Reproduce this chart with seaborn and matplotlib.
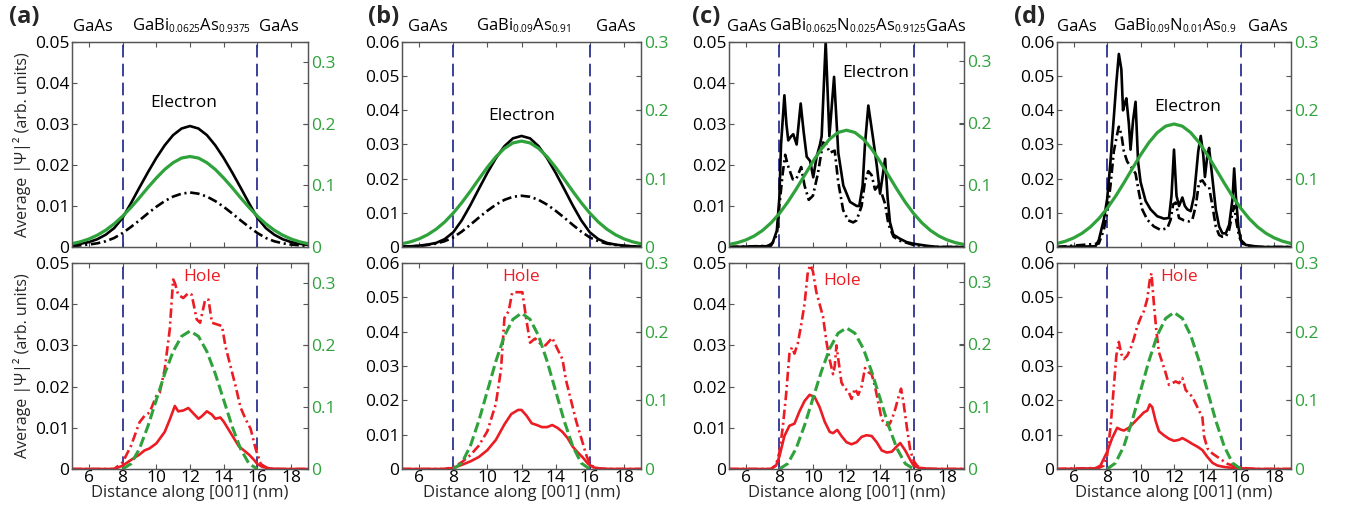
import matplotlib
matplotlib.use("Agg")
import matplotlib.pyplot as plt
import seaborn as sns

sns.set_theme(style="ticks")
plt.rcParams['font.family'] = ['Open Sans', 'DejaVu Sans']
plt.rcParams['mathtext.fontset'] = 'custom'
plt.rcParams['mathtext.rm'] = 'Open Sans'
plt.rcParams['mathtext.it'] = 'Open Sans:italic'
plt.rcParams['mathtext.bf'] = 'Open Sans:bold'
# smaller subscripts in the layer names, like the original figure
try:
    import matplotlib._mathtext as _mt
    _mt.SHRINK_FACTOR = 0.6
except Exception:
    pass

GREEN = '#2fa23c'
RED = '#ec1c24'
NAVY = '#2e3192'
FRAME = '#555555'

# ---- shared axes values ----
X_TICKS = [6, 8, 10, 12, 14, 16, 18]
X_TICK_LABELS = ['6', '8', '10', '12', '14', '16', '18']
WELL_EDGES = [8, 16]
LEFT_TICKS_05 = [0, 0.01, 0.02, 0.03, 0.04, 0.05]
LEFT_LABELS_05 = ['0', '0.01', '0.02', '0.03', '0.04', '0.05']
LEFT_TICKS_06 = [0, 0.01, 0.02, 0.03, 0.04, 0.05, 0.06]
LEFT_LABELS_06 = ['0', '0.01', '0.02', '0.03', '0.04', '0.05', '0.06']
RIGHT_TICKS = [0, 0.1, 0.2, 0.3]
RIGHT_LABELS = ['0', '0.1', '0.2', '0.3']

# sampling positions for the smooth curves (nm)
X_GRID = [5, 5.5, 6, 6.5, 7, 7.5, 8, 8.5, 9, 9.5, 10, 10.5, 11, 11.5, 12,
          12.5, 13, 13.5, 14, 14.5, 15, 15.5, 16, 16.5, 17, 17.5, 18, 18.5, 19]
X_WELL = [8, 8.5, 9, 9.5, 10, 10.5, 11, 11.5, 12, 12.5, 13, 13.5, 14, 14.5, 15, 15.5, 16]

# ---- (a) GaBi0.0625As0.9375 ----
a_el_solid = [0.0005, 0.0008, 0.0012, 0.0019, 0.0030, 0.0046, 0.0071, 0.0107, 0.0145, 0.0182,
              0.0217, 0.0248, 0.0273, 0.0289, 0.0295, 0.0289, 0.0273, 0.0248, 0.0217, 0.0182,
              0.0145, 0.0107, 0.0071, 0.0046, 0.0030, 0.0019, 0.0012, 0.0008, 0.0005]
a_el_dash = [0.0002, 0.0004, 0.0006, 0.0009, 0.0014, 0.0022, 0.0034, 0.0049, 0.0065, 0.0082,
             0.0098, 0.0112, 0.0123, 0.0130, 0.0133, 0.0130, 0.0123, 0.0112, 0.0098, 0.0082,
             0.0065, 0.0049, 0.0034, 0.0022, 0.0014, 0.0009, 0.0006, 0.0004, 0.0002]
a_el_green = [0.0054, 0.0085, 0.0130, 0.0192, 0.0273, 0.0376, 0.0500, 0.0644, 0.0800, 0.0965,
              0.1120, 0.1260, 0.1370, 0.1445, 0.1470, 0.1445, 0.1370, 0.1260, 0.1120, 0.0965,
              0.0800, 0.0644, 0.0500, 0.0376, 0.0273, 0.0192, 0.0130, 0.0085, 0.0054]
a_h_green = [0, 0.0085, 0.0326, 0.0689, 0.1115, 0.1540, 0.1900, 0.2145, 0.2230,
             0.2145, 0.1900, 0.1540, 0.1115, 0.0689, 0.0326, 0.0085, 0]
a_h_dash_x = [5, 7.5, 8.0, 8.5, 9.0, 9.3, 9.6, 9.8, 10.0, 10.2, 10.5, 10.8, 11.0, 11.1, 11.3,
              11.6, 11.9, 12.1, 12.4, 12.6, 12.9, 13.1, 13.3, 13.6, 13.9, 14.1, 14.4, 14.7,
              15.0, 15.3, 15.6, 15.9, 16.2, 16.6, 17.0, 19]
a_h_dash_y = [0, 0, 0.0016, 0.0056, 0.0113, 0.0129, 0.0137, 0.0157, 0.0177, 0.0185, 0.0242,
              0.0339, 0.046, 0.0452, 0.0423, 0.0415, 0.0427, 0.0423, 0.0363, 0.0355, 0.0411,
              0.0411, 0.0355, 0.0351, 0.0347, 0.0298, 0.025, 0.0202, 0.0149, 0.0121, 0.0097,
              0.0048, 0.0012, 0.0002, 0, 0]
a_h_solid_x = [5, 7.5, 8.0, 8.5, 9.0, 9.3, 9.6, 10.0, 10.5, 10.8, 11.1, 11.3, 11.6, 11.9, 12.2,
               12.5, 12.7, 13.0, 13.3, 13.5, 13.8, 14.0, 14.3, 14.6, 14.9, 15.2, 15.5, 15.8,
               16.0, 16.3, 16.8, 17.5, 19]
a_h_solid_y = [0, 0, 0.0008, 0.0022, 0.0035, 0.0045, 0.0050, 0.0062, 0.0090, 0.0120, 0.0153,
               0.0140, 0.0142, 0.0148, 0.0135, 0.0122, 0.0128, 0.0140, 0.0132, 0.0122, 0.0125,
               0.0115, 0.0095, 0.0075, 0.0055, 0.0045, 0.0035, 0.0022, 0.0012, 0.0005, 0.0001, 0, 0]

# ---- (b) GaBi0.09As0.91 ----
b_el_solid = [0.0001, 0.0002, 0.0004, 0.0007, 0.0012, 0.0023, 0.0043, 0.0078, 0.0122, 0.0170,
              0.0217, 0.0260, 0.0295, 0.0318, 0.0325, 0.0318, 0.0295, 0.0260, 0.0217, 0.0170,
              0.0122, 0.0078, 0.0043, 0.0023, 0.0012, 0.0007, 0.0004, 0.0002, 0.0001]
b_el_dash = [0.0001, 0.0002, 0.0003, 0.0006, 0.0010, 0.0017, 0.0028, 0.0045, 0.0065, 0.0086,
             0.0106, 0.0124, 0.0138, 0.0147, 0.0150, 0.0147, 0.0138, 0.0124, 0.0106, 0.0086,
             0.0065, 0.0045, 0.0028, 0.0017, 0.0010, 0.0006, 0.0003, 0.0002, 0.0001]
b_el_green = [0.0047, 0.0076, 0.0119, 0.0180, 0.0261, 0.0366, 0.0496, 0.0648, 0.0816, 0.0993,
              0.1166, 0.1320, 0.1443, 0.1523, 0.1550, 0.1523, 0.1443, 0.1320, 0.1166, 0.0993,
              0.0816, 0.0648, 0.0496, 0.0366, 0.0261, 0.0180, 0.0119, 0.0076, 0.0047]
b_h_green = [0, 0.0086, 0.0332, 0.0702, 0.1135, 0.1570, 0.1940, 0.2180, 0.2270,
             0.2180, 0.1940, 0.1570, 0.1135, 0.0702, 0.0332, 0.0086, 0]
b_h_dash_x = [5, 7.5, 8.0, 8.5, 9.0, 9.5, 10.0, 10.5, 10.8, 11.0, 11.25, 11.45, 11.6, 12.05,
              12.3, 12.5, 12.8, 13.1, 13.4, 13.8, 14.1, 14.4, 14.6, 14.9, 15.2, 15.5, 15.8,
              16.0, 16.3, 17.0, 19]
b_h_dash_y = [0, 0, 0.0005, 0.002, 0.004, 0.0068, 0.011, 0.019, 0.029, 0.044, 0.046, 0.0513,
              0.0515, 0.0515, 0.043, 0.0368, 0.038, 0.0365, 0.036, 0.0382, 0.035, 0.032, 0.026,
              0.020, 0.014, 0.009, 0.004, 0.0015, 0.0003, 0, 0]
b_h_solid_x = [5, 7.5, 8.0, 8.5, 9.0, 9.5, 10.0, 10.5, 11.0, 11.4, 11.8, 12.0, 12.3, 12.6,
               12.9, 13.2, 13.5, 13.8, 14.1, 14.4, 14.7, 15.0, 15.3, 15.6, 15.9, 16.2, 16.6,
               17.5, 19]
b_h_solid_y = [0, 0, 0.0003, 0.0012, 0.0022, 0.0035, 0.0055, 0.0085, 0.013, 0.016, 0.0172,
               0.0172, 0.0155, 0.0133, 0.0128, 0.0122, 0.0122, 0.0128, 0.012, 0.0108, 0.009,
               0.0065, 0.0048, 0.0033, 0.0015, 0.0005, 0.0001, 0, 0]

# ---- (c) GaBi0.0625N0.025As0.9125 ----
c_el_green = [0.0041, 0.0069, 0.0113, 0.0177, 0.0267, 0.0387, 0.0539, 0.0722, 0.0931, 0.1154,
              0.1376, 0.1577, 0.1739, 0.1844, 0.1880, 0.1844, 0.1739, 0.1577, 0.1376, 0.1154,
              0.0931, 0.0722, 0.0539, 0.0387, 0.0267, 0.0177, 0.0113, 0.0069, 0.0041]
c_el_solid_x = [5, 7.3, 7.6, 7.85, 8.0, 8.1, 8.3, 8.42, 8.53, 8.7, 8.83, 9.03, 9.27, 9.45,
                9.63, 9.83, 10.02, 10.22, 10.42, 10.52, 10.76, 10.98, 11.26, 11.51, 11.81,
                12.21, 12.61, 12.76, 12.96, 13.10, 13.30, 13.60, 13.80, 14.00, 14.30, 14.45,
                14.59, 14.79, 15.19, 15.58, 15.98, 16.78, 17.5, 19]
c_el_solid_y = [0, 0.0002, 0.001, 0.004, 0.012, 0.025, 0.037, 0.030, 0.026, 0.027, 0.0275,
                0.025, 0.035, 0.028, 0.022, 0.021, 0.017, 0.022, 0.025, 0.027, 0.050, 0.027,
                0.0415, 0.023, 0.015, 0.011, 0.010, 0.010, 0.015, 0.025, 0.0345, 0.026, 0.020,
                0.013, 0.0215, 0.012, 0.006, 0.003, 0.002, 0.0012, 0.0008, 0.0003, 0, 0]
c_el_dash_x = [5, 7.5, 7.85, 8.0, 8.2, 8.35, 8.5, 8.8, 9.0, 9.3, 9.5, 9.75, 10.0, 10.3, 10.6,
               10.8, 11.0, 11.3, 11.5, 11.8, 12.1, 12.4, 12.6, 12.9, 13.1, 13.3, 13.5, 13.7,
               13.9, 14.1, 14.3, 14.5, 14.8, 15.2, 15.6, 16.0, 16.7, 17.5, 19]
c_el_dash_y = [0, 0.0003, 0.003, 0.010, 0.018, 0.0225, 0.020, 0.0165, 0.0165, 0.0195, 0.015,
               0.0115, 0.0125, 0.018, 0.0255, 0.025, 0.023, 0.0235, 0.016, 0.009, 0.0065,
               0.006, 0.0065, 0.010, 0.016, 0.0185, 0.0175, 0.014, 0.015, 0.013, 0.0105,
               0.0055, 0.0025, 0.0015, 0.001, 0.0005, 0.0002, 0, 0]
c_h_green = [0, 0.0086, 0.0330, 0.0698, 0.1130, 0.1560, 0.1930, 0.2175, 0.2260,
             0.2175, 0.1930, 0.1560, 0.1130, 0.0698, 0.0330, 0.0086, 0]
c_h_dash_x = [5, 7.5, 7.8, 8.0, 8.2, 8.4, 8.6, 8.75, 8.9, 9.1, 9.3, 9.5, 9.7, 9.85, 10.0,
              10.2, 10.4, 10.6, 10.8, 11.0, 11.2, 11.3, 11.4, 11.55, 11.7, 11.9, 12.1, 12.3,
              12.5, 12.7, 12.9, 13.1, 13.3, 13.5, 13.7, 13.9, 14.1, 14.3, 14.5, 14.7, 14.9,
              15.1, 15.25, 15.4, 15.6, 15.8, 16.0, 16.2, 16.5, 17.0, 19]
c_h_dash_y = [0, 0, 0.001, 0.004, 0.010, 0.018, 0.028, 0.0295, 0.028, 0.0305, 0.035, 0.040,
              0.048, 0.0495, 0.048, 0.043, 0.040, 0.037, 0.031, 0.0265, 0.023, 0.025, 0.030,
              0.0255, 0.021, 0.0195, 0.019, 0.017, 0.0195, 0.018, 0.020, 0.0245, 0.0235,
              0.023, 0.020, 0.016, 0.012, 0.011, 0.0105, 0.012, 0.0145, 0.0175, 0.0195, 0.016,
              0.010, 0.0045, 0.002, 0.0008, 0.0002, 0, 0]
c_h_solid_x = [5, 7.5, 7.8, 8.0, 8.3, 8.6, 8.9, 9.2, 9.5, 9.8, 10.1, 10.4, 10.7, 11.0, 11.2,
               11.45, 11.7, 12.0, 12.3, 12.6, 12.9, 13.2, 13.5, 13.8, 14.1, 14.4, 14.7, 15.0,
               15.2, 15.5, 15.8, 16.0, 16.3, 16.8, 17.5, 19]
c_h_solid_y = [0, 0, 0.0008, 0.003, 0.008, 0.0105, 0.011, 0.014, 0.0165, 0.018, 0.0175, 0.015,
               0.0115, 0.009, 0.0087, 0.0095, 0.008, 0.0065, 0.006, 0.0065, 0.0078, 0.0082,
               0.008, 0.0065, 0.0045, 0.004, 0.0042, 0.0055, 0.0063, 0.0045, 0.0022, 0.0008,
               0.0003, 0.0001, 0, 0]

# ---- (d) GaBi0.09N0.01As0.9 ----
d_el_green = [0.0052, 0.0084, 0.0133, 0.0201, 0.0294, 0.0415, 0.0565, 0.0741, 0.0938, 0.1144,
              0.1347, 0.1529, 0.1674, 0.1768, 0.1800, 0.1768, 0.1674, 0.1529, 0.1347, 0.1144,
              0.0938, 0.0741, 0.0565, 0.0415, 0.0294, 0.0201, 0.0133, 0.0084, 0.0052]
d_el_solid_x = [5, 7.3, 7.5, 7.8, 8.0, 8.2, 8.4, 8.55, 8.7, 8.85, 8.95, 9.05, 9.15, 9.3, 9.4,
                9.55, 9.7, 9.85, 10.0, 10.3, 10.6, 11.0, 11.4, 11.7, 11.85, 12.0, 12.15, 12.3,
                12.5, 12.65, 12.8, 13.0, 13.2, 13.45, 13.6, 13.75, 13.85, 14.0, 14.1, 14.3,
                14.5, 14.7, 14.9, 15.1, 15.3, 15.5, 15.6, 15.7, 15.85, 16.0, 16.3, 17.0, 17.5, 19]
d_el_solid_y = [0, 0.0002, 0.002, 0.008, 0.014, 0.025, 0.038, 0.048, 0.0565, 0.052, 0.040,
                0.042, 0.0435, 0.036, 0.0285, 0.037, 0.0425, 0.025, 0.019, 0.0135, 0.011,
                0.009, 0.0083, 0.0085, 0.015, 0.0285, 0.015, 0.012, 0.0145, 0.012, 0.011,
                0.0105, 0.015, 0.028, 0.0325, 0.027, 0.0205, 0.027, 0.029, 0.020, 0.011,
                0.006, 0.004, 0.004, 0.0065, 0.014, 0.023, 0.015, 0.006, 0.002, 0.0006,
                0.0001, 0, 0]
d_el_dash_x = [5, 7.5, 7.8, 8.0, 8.2, 8.4, 8.6, 8.7, 8.85, 9.0, 9.2, 9.5, 9.7, 9.9, 10.1,
               10.4, 10.8, 11.2, 11.6, 11.8, 11.95, 12.1, 12.3, 12.6, 12.9, 13.1, 13.3, 13.5,
               13.7, 13.9, 14.1, 14.3, 14.5, 14.7, 14.9, 15.1, 15.3, 15.5, 15.6, 15.75, 15.9,
               16.1, 16.5, 17.2, 19]
d_el_dash_y = [0, 0.001, 0.005, 0.010, 0.018, 0.028, 0.033, 0.0352, 0.033, 0.028, 0.025,
               0.023, 0.0215, 0.016, 0.011, 0.008, 0.006, 0.005, 0.0055, 0.008, 0.0125, 0.013,
               0.0085, 0.0078, 0.0075, 0.008, 0.012, 0.019, 0.0195, 0.018, 0.0175, 0.012,
               0.006, 0.0035, 0.003, 0.003, 0.005, 0.010, 0.012, 0.007, 0.003, 0.001, 0.0003, 0, 0]
d_h_green = [0, 0.0087, 0.0333, 0.0705, 0.1140, 0.1575, 0.1947, 0.2193, 0.2280,
             0.2193, 0.1947, 0.1575, 0.1140, 0.0705, 0.0333, 0.0087, 0]
d_h_dash_x = [5, 7.5, 7.8, 8.0, 8.2, 8.4, 8.55, 8.7, 8.85, 9.0, 9.2, 9.4, 9.6, 9.8, 10.0,
              10.2, 10.4, 10.55, 10.65, 10.8, 10.95, 11.1, 11.3, 11.5, 11.7, 11.9, 12.1, 12.3,
              12.5, 12.7, 12.9, 13.1, 13.3, 13.5, 13.7, 13.8, 14.0, 14.3, 14.6, 14.9, 15.2,
              15.6, 16.0, 16.5, 17.0, 19]
d_h_dash_y = [0, 0.0003, 0.001, 0.004, 0.012, 0.024, 0.033, 0.037, 0.0335, 0.032, 0.033,
              0.035, 0.038, 0.0415, 0.044, 0.046, 0.0495, 0.055, 0.057, 0.048, 0.040, 0.034,
              0.031, 0.028, 0.0245, 0.025, 0.0255, 0.025, 0.0265, 0.023, 0.022, 0.021, 0.019,
              0.017, 0.015, 0.0095, 0.006, 0.0045, 0.0035, 0.0025, 0.0015, 0.0008, 0.0004,
              0.0001, 0, 0]
d_h_solid_x = [5, 7.3, 7.6, 7.8, 8.0, 8.3, 8.6, 8.8, 9.0, 9.3, 9.6, 9.9, 10.2, 10.4, 10.55,
               10.7, 10.9, 11.1, 11.4, 11.7, 12.0, 12.3, 12.5, 12.8, 13.1, 13.4, 13.7, 14.0,
               14.3, 14.6, 15.0, 15.5, 16.0, 16.6, 17.2, 19]
d_h_solid_y = [0, 0.0002, 0.001, 0.003, 0.005, 0.009, 0.012, 0.0115, 0.0112, 0.012, 0.0135,
               0.015, 0.0165, 0.017, 0.0188, 0.018, 0.014, 0.011, 0.0098, 0.0088, 0.0082,
               0.0085, 0.009, 0.0082, 0.0073, 0.0065, 0.0055, 0.0035, 0.0018, 0.001, 0.0006,
               0.0003, 0.0002, 0.0001, 0, 0]

# header labels
LAYER_NAMES = [
    ['GaAs', r'GaBi$_{0.0625}$As$_{0.9375}$', 'GaAs'],
    ['GaAs', r'GaBi$_{0.09}$As$_{0.91}$', 'GaAs'],
    ['GaAs', r'GaBi$_{0.0625}$N$_{0.025}$As$_{0.9125}$', 'GaAs'],
    ['GaAs', r'GaBi$_{0.09}$N$_{0.01}$As$_{0.9}$', 'GaAs'],
]
PANEL_TAGS = ['(a)', '(b)', '(c)', '(d)']

# ---- layout (pixels of a 1345x515 canvas) ----
W, H = 1345, 515
COL_X = [(72, 308), (402, 641), (729, 964), (1057, 1291)]
TOP_Y = (42, 247)
BOT_Y = (263, 469)
NAME_X = [[6.25, 12.1, 17.3], [6.5, 12.1, 17.5], [6.07, 12.1, 17.92], [6.2, 12.05, 17.6]]
TAG_X = [24, 384, 706, 1030]
ELECTRON_XY = [(11.65, 0.035), (12.0, 0.0382), (13.75, 0.0424), (12.8, 0.041)]
HOLE_XY = [(12.7, 0.0466), (12.0, 0.0559), (11.73, 0.0456), (12.3, 0.0559)]
LEFT_MAX = [0.05, 0.06, 0.05, 0.06]
RIGHT_MAX = [0.333, 0.3, 0.33, 0.3]

DASHDOT = (0, (3.6, 1.4, 0.8, 1.4))
GDASH = (0, (3.4, 1.4))
TICK_FS = 12.5

fig = plt.figure(figsize=(W / 100, H / 100), dpi=100)


def make_axes(col, rows):
    x0, x1 = COL_X[col]
    y0, y1 = rows
    return fig.add_axes([x0 / W, 1 - y1 / H, (x1 - x0) / W, (y1 - y0) / H])


def line(ax, x, y, color, lw, ls='-'):
    sns.lineplot(x=x, y=y, ax=ax, color=color, linewidth=lw, linestyle=ls,
                 estimator=None, sort=False, legend=False)


def style_axes(ax, ax2, col, bottom):
    ax.set_xlim(5, 19)
    ax.set_ylim(0, LEFT_MAX[col])
    ax2.set_ylim(0, RIGHT_MAX[col])
    ax.set_xticks(X_TICKS, X_TICK_LABELS if bottom else [])
    if LEFT_MAX[col] == 0.05:
        ax.set_yticks(LEFT_TICKS_05, LEFT_LABELS_05)
    else:
        ax.set_yticks(LEFT_TICKS_06, LEFT_LABELS_06)
    ax2.set_yticks(RIGHT_TICKS, RIGHT_LABELS)
    ax.tick_params(direction='in', top=True, right=True, length=3.5, width=0.8,
                   color=FRAME, labelsize=TICK_FS, pad=2, labelcolor='black')
    ax.tick_params(axis='x', pad=1)
    ax2.tick_params(direction='in', length=3.5, width=0.8, color=FRAME,
                    labelsize=TICK_FS, pad=2, labelcolor=GREEN)
    for a in (ax, ax2):
        for s in a.spines.values():
            s.set_color(FRAME)
            s.set_linewidth(0.9)
    ax.set_xlabel('')
    ax.set_ylabel('')
    ax2.set_ylabel('')
    for xv in WELL_EDGES:
        ax.axvline(xv, color=NAVY, lw=1.3, ls=(0, (7, 3.5)), zorder=1)
    if bottom:
        ax.set_xlabel('Distance along [001] (nm)', fontsize=12, labelpad=-1)
    if col == 0:
        ax.set_ylabel('Average |Ψ|² (arb. units)', fontsize=11.5, labelpad=3)


electron = [
    (a_el_green, X_GRID, a_el_solid, X_GRID, a_el_dash),
    (b_el_green, X_GRID, b_el_solid, X_GRID, b_el_dash),
    (c_el_green, c_el_solid_x, c_el_solid_y, c_el_dash_x, c_el_dash_y),
    (d_el_green, d_el_solid_x, d_el_solid_y, d_el_dash_x, d_el_dash_y),
]
hole = [
    (a_h_green, a_h_solid_x, a_h_solid_y, a_h_dash_x, a_h_dash_y),
    (b_h_green, b_h_solid_x, b_h_solid_y, b_h_dash_x, b_h_dash_y),
    (c_h_green, c_h_solid_x, c_h_solid_y, c_h_dash_x, c_h_dash_y),
    (d_h_green, d_h_solid_x, d_h_solid_y, d_h_dash_x, d_h_dash_y),
]

for col in range(4):
    # electron row
    ax = make_axes(col, TOP_Y)
    green, sx, sy, dx, dy = electron[col]
    line(ax, sx, sy, 'black', 1.9)
    line(ax, dx, dy, 'black', 1.9, DASHDOT)
    ax2 = ax.twinx()
    line(ax2, X_GRID, green, GREEN, 2.3)
    style_axes(ax, ax2, col, bottom=False)
    ex, ey = ELECTRON_XY[col]
    ax.text(ex, ey, 'Electron', ha='center', va='center', fontsize=12.5, color='black')
    for xn, name in zip(NAME_X[col], LAYER_NAMES[col]):
        ax.text(xn, 1.055, name, transform=ax.get_xaxis_transform(), ha='center',
                va='baseline', fontsize=12, color='black')
    fig.text(TAG_X[col] / W, 1 - 17 / H, PANEL_TAGS[col], ha='center', va='center',
             fontsize=17, fontweight='bold')

    # hole row
    ax = make_axes(col, BOT_Y)
    green, sx, sy, dx, dy = hole[col]
    line(ax, sx, sy, RED, 1.9)
    line(ax, dx, dy, RED, 1.9, DASHDOT)
    ax2 = ax.twinx()
    line(ax2, X_WELL, green, GREEN, 2.2, GDASH)
    style_axes(ax, ax2, col, bottom=True)
    hx, hy = HOLE_XY[col]
    ax.text(hx, hy, 'Hole', ha='center', va='center', fontsize=12.5, color=RED)

fig.savefig('out.png', dpi=100)
